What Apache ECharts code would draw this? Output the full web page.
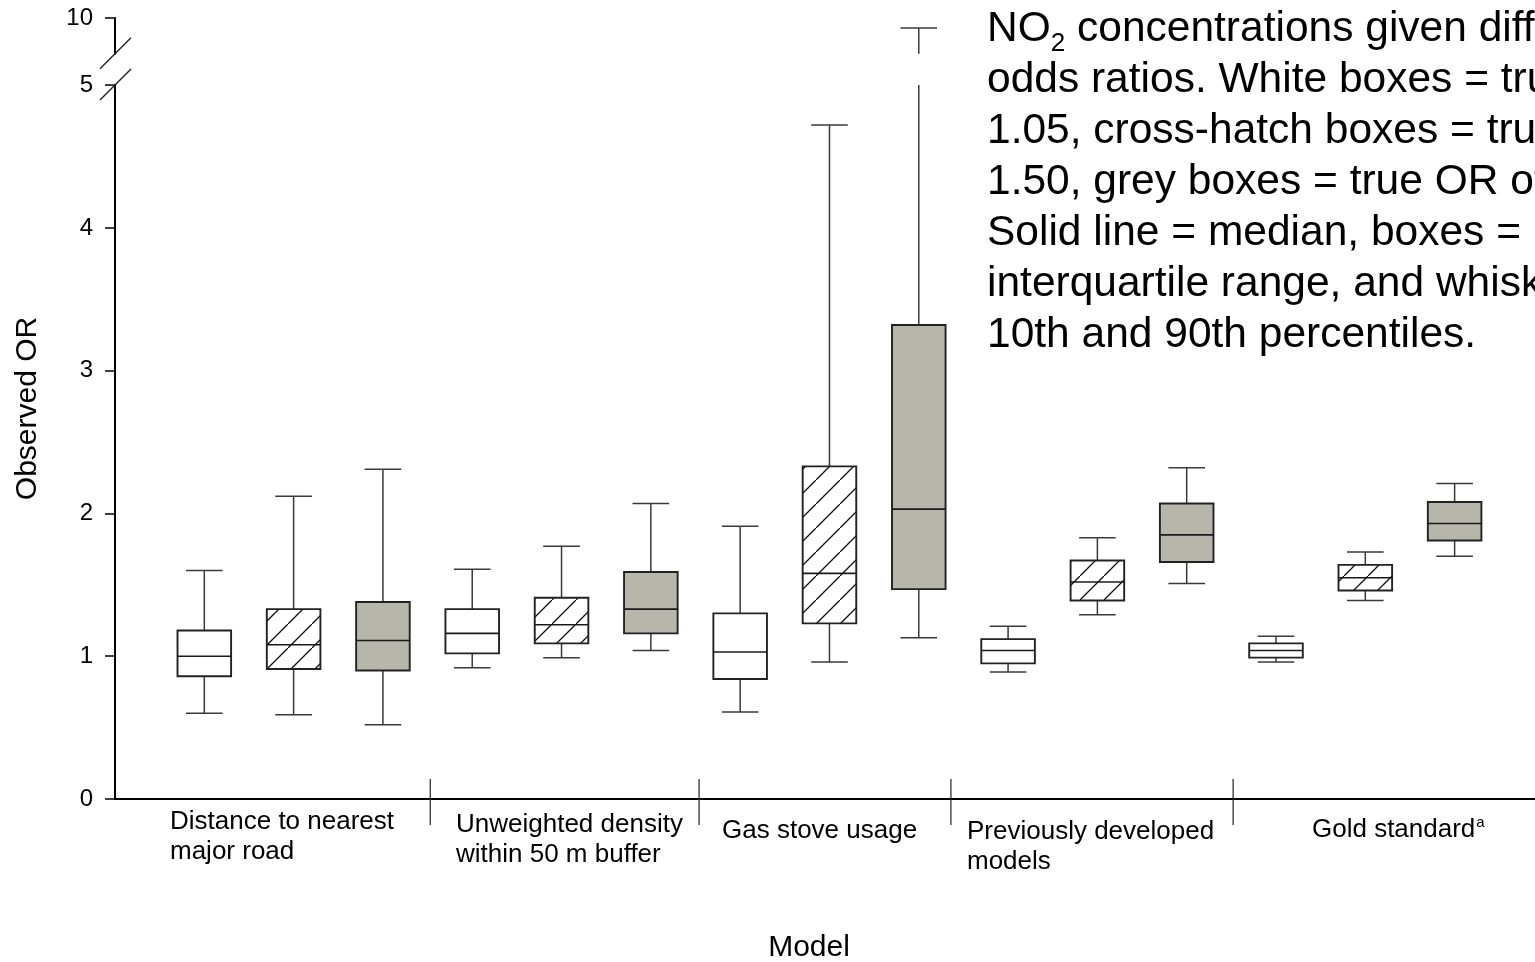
<!DOCTYPE html>
<html>
<head>
<meta charset="utf-8">
<title>Observed OR by model</title>
<script src="https://cdn.jsdelivr.net/npm/echarts@6.0.0/dist/echarts.min.js"></script>
<style>
html, body { margin: 0; padding: 0; background: #fff; }
#chart { width: 1535px; height: 962px; }
</style>
</head>
<body>
<div id="chart"></div>
<script>
(function(){
	/* models, three boxes each (true OR 1.05 / 1.50 / 2.00) */
	var categories = ['Distance to nearest\nmajor road', 'Unweighted density\nwithin 50 m buffer', 'Gas stove usage', 'Previously developed\nmodels', 'Gold standard'];
	var boxKinds = ['white', 'hatch', 'grey'];
	var p10    = [0.60, 0.59, 0.52, 0.92, 0.99, 1.04, 0.61, 0.96, 1.13, 0.89, 1.29, 1.51, 0.96, 1.39, 1.70];
	var q1     = [0.86, 0.91, 0.90, 1.02, 1.09, 1.16, 0.84, 1.23, 1.47, 0.95, 1.39, 1.66, 0.99, 1.46, 1.81];
	var median = [1.00, 1.08, 1.11, 1.16, 1.22, 1.33, 1.03, 1.58, 2.03, 1.04, 1.52, 1.85, 1.04, 1.55, 1.93];
	var q3     = [1.18, 1.33, 1.38, 1.33, 1.41, 1.59, 1.30, 2.33, 3.32, 1.12, 1.67, 2.07, 1.09, 1.64, 2.08];
	var p90    = [1.60, 2.12, 2.31, 1.61, 1.77, 2.07, 1.91, 4.72, 9.93, 1.21, 1.83, 2.32, 1.14, 1.73, 2.21];
	var yTicks = [0, 1, 2, 3, 4, 5, 10];
	var groupEdges = [3.53, 6.54, 9.36, 12.52];
	var axisBreak = [5, 9.75];

	var FONT = "'Liberation Sans', Arial, sans-serif";
	var breakGap = 0.22; // room left for the break, in axis units

	// real value -> position on the broken axis
	function toAxis(v){
		if (v <= axisBreak[0]) return v;
		if (v >= axisBreak[1]) return axisBreak[0] + breakGap + (v - axisBreak[1]);
		return axisBreak[0];
	}
	function fromAxis(d){
		return d <= axisBreak[0] ? d : d - axisBreak[0] - breakGap + axisBreak[1];
	}

	// diagonal hatch tile
	var tile = document.createElement('canvas');
	tile.width = 24; tile.height = 24;
	var g = tile.getContext('2d');
	g.fillStyle = '#fff';
	g.fillRect(0, 0, 24, 24);
	g.strokeStyle = '#111';
	g.lineWidth = 1.3;
	g.beginPath();
	g.moveTo(-2, 26); g.lineTo(26, -2);
	g.stroke();

	var fills = {
		white: '#ffffff',
		hatch: { image: tile, repeat: 'repeat' },
		grey: '#b6b6aa'
	};

	var boxData = [];
	for (var i = 0; i < median.length; i++) {
		boxData.push([i + 1, toAxis(p10[i]), toAxis(q1[i]), toAxis(median[i]), toAxis(q3[i]), toAxis(p90[i]), i % 3]);
	}

	function renderBox(params, api){
		var x = api.value(0),
			kind = boxKinds[api.value(6)],
			halfBox = api.size([0.6, 0])[0] / 2,
			halfCap = api.size([0.41, 0])[0] / 2,
			pLow = api.coord([x, api.value(1)]),
			pQ1 = api.coord([x, api.value(2)]),
			pMed = api.coord([x, api.value(3)]),
			pQ3 = api.coord([x, api.value(4)]),
			pHigh = api.coord([x, api.value(5)]),
			cx = pMed[0],
			wStyle = { stroke: '#3a3a3a', lineWidth: 1.5 },
			kids = [];

		function line(x1, y1, x2, y2, st){
			kids.push({ type: 'line', shape: { x1: x1, y1: y1, x2: x2, y2: y2 }, style: st });
		}
		line(cx, pQ1[1], cx, pLow[1], wStyle);
		line(cx - halfCap, pLow[1], cx + halfCap, pLow[1], wStyle);
		if (api.value(5) > axisBreak[0]) {
			var b0 = api.coord([x, axisBreak[0]])[1],
				b1 = api.coord([x, axisBreak[0] + breakGap])[1];
			line(cx, pQ3[1], cx, b0, wStyle);
			line(cx, b1, cx, pHigh[1], wStyle);
		} else {
			line(cx, pQ3[1], cx, pHigh[1], wStyle);
		}
		line(cx - halfCap, pHigh[1], cx + halfCap, pHigh[1], wStyle);
		kids.push({
			type: 'rect',
			shape: { x: cx - halfBox, y: pQ3[1], width: halfBox * 2, height: pQ1[1] - pQ3[1] },
			style: { fill: fills[kind], stroke: '#222', lineWidth: 1.9 }
		});
		line(cx - halfBox, pMed[1], cx + halfBox, pMed[1], { stroke: '#1a1a1a', lineWidth: 1.6 });
		return { type: 'group', children: kids };
	}

	var myChart = echarts.init(document.getElementById('chart'));
	var yTop = toAxis(yTicks[yTicks.length - 1]);

	myChart.setOption({
		backgroundColor: '#fff',
		animation: false,
		grid: { left: 115, right: 0, top: 18, bottom: 163 },
		xAxis: {
			type: 'value',
			min: 0,
			max: 15.9,
			axisLine: { show: true, lineStyle: { color: '#000', width: 2 } },
			axisTick: { show: false },
			axisLabel: { show: false },
			splitLine: { show: false }
		},
		yAxis: {
			type: 'value',
			min: 0,
			max: yTop,
			name: 'Observed OR',
			nameLocation: 'middle',
			nameGap: 72,
			nameTextStyle: { fontSize: 30, color: '#000', fontFamily: FONT },
			axisLine: { show: true, lineStyle: { color: '#000', width: 2 } },
			axisTick: { show: true, length: 10, customValues: yTicks.map(toAxis), lineStyle: { color: '#000', width: 1.5 } },
			axisLabel: {
				customValues: yTicks.map(toAxis),
				margin: 22,
				fontSize: 24,
				color: '#000',
				fontFamily: FONT,
				formatter: function(v){ return String(Math.round(fromAxis(v))); }
			},
			splitLine: { show: false }
		},
		series: [{
			type: 'custom',
			renderItem: renderBox,
			encode: { x: 0, y: [1, 2, 3, 4, 5] },
			data: boxData,
			z: 3
		}]
	});

	// separators, break marks and texts
	function px(x, y){ return myChart.convertToPixel({ gridIndex: 0 }, [x, y]); }
	var gr = [];
	groupEdges.forEach(function(e){
		var p = px(e, 0);
		gr.push({ type: 'line', shape: { x1: p[0], y1: p[1] - 20, x2: p[0], y2: p[1] + 26 }, style: { stroke: '#222', lineWidth: 1.2 }, z: 10 });
	});
	var bLow = px(0, axisBreak[0]), bHigh = px(0, axisBreak[0] + breakGap);
	gr.push({ type: 'rect', shape: { x: bLow[0] - 3, y: bHigh[1] + 1, width: 6, height: bLow[1] - bHigh[1] - 2 }, style: { fill: '#fff' }, z: 10 });
	[bLow, bHigh].forEach(function(p){
		gr.push({ type: 'line', shape: { x1: p[0] - 15, y1: p[1] + 15, x2: p[0] + 16, y2: p[1] - 16 }, style: { stroke: '#222', lineWidth: 1.4 }, z: 11 });
	});

	var labelPos = [[170, 807], [456, 810], [722, 816], [967, 817], [1312, 815]];
	categories.forEach(function(c, i){
		var txt = i === categories.length - 1 ? '{n|' + c + '}{s|a}' : c;
		gr.push({
			type: 'text', x: labelPos[i][0], y: labelPos[i][1], z: 12,
			style: {
				text: txt, fill: '#000', fontSize: 26, fontFamily: FONT, lineHeight: 30,
				align: 'left', verticalAlign: 'top',
				rich: {
					n: { fontSize: 26, fontFamily: FONT, lineHeight: 30 },
					s: { fontSize: 15, fontFamily: FONT, lineHeight: 30, verticalAlign: 'top', padding: [0, 0, 12, 1] }
				}
			}
		});
	});
	gr.push({
		type: 'text', x: 809, y: 948, z: 12,
		style: { text: 'Model', fill: '#000', fontSize: 30, fontFamily: FONT, align: 'center', verticalAlign: 'middle' }
	});

	// note text; the subscript 2 is drawn on its own, lower than the line
	var noteX = 987, noteY = 4;
	var ctx = tile.getContext('2d');
	ctx.font = '42.5px ' + FONT;
	var noWidth = ctx.measureText('NO').width;
	gr.push({
		type: 'text', x: noteX, y: noteY, z: 12,
		style: {
			text: '{n|NO}{s|2}{n| concentrations given different}\n' +
				'{n|odds ratios. White boxes = true OR of}\n' +
				'{n|1.05, cross-hatch boxes = true OR of}\n' +
				'{n|1.50, grey boxes = true OR of 2.00.}\n' +
				'{n|Solid line = median, boxes =}\n' +
				'{n|interquartile range, and whiskers =}\n' +
				'{n|10th and 90th percentiles.}',
			fill: '#000', align: 'left', verticalAlign: 'top',
			rich: {
				n: { fontSize: 42.5, fontFamily: FONT, lineHeight: 51 },
				s: { fontSize: 26, fontFamily: FONT, lineHeight: 51, fill: 'rgba(0,0,0,0)', color: 'rgba(0,0,0,0)', opacity: 0 }
			}
		}
	});
	gr.push({
		type: 'text', x: noteX + noWidth, y: noteY + 53, z: 12,
		style: { text: '2', fill: '#000', fontSize: 26, fontFamily: FONT, align: 'left', verticalAlign: 'bottom' }
	});
	myChart.setOption({ graphic: gr });
})();
</script>
</body>
</html>
